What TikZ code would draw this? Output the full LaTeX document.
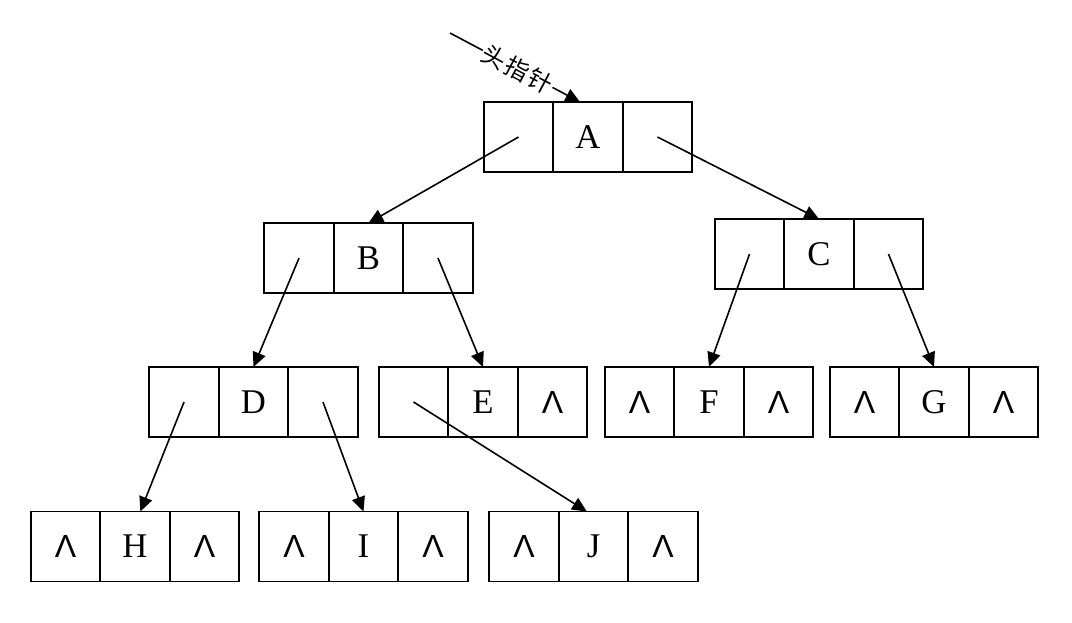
\documentclass[tikz,border=0pt]{standalone}
\usepackage{fontspec}
\setmainfont{Liberation Serif}
\newfontfamily\cjk{Noto Sans CJK SC}
\newfontfamily\lamfont{Liberation Sans}
\usetikzlibrary{arrows.meta,positioning}
\newcommand\nul{{\lamfont\fontsize{24}{26}\selectfont Λ}}
\tikzset{
  cell/.style={draw, line width=1.3pt, minimum width=52.1pt, minimum height=52.5pt,
    inner sep=0pt, outer sep=0pt, font=\fontsize{26}{30}\selectfont},
  arr/.style={line width=1.2pt, -{Triangle[length=11pt,width=10pt]}},
  lbl/.style={font=\cjk\fontsize{18}{22}\selectfont, fill=white, inner sep=1pt, sloped}
}
\begin{document}
\begin{tikzpicture}[x=0.75pt,y=-0.75pt]
\useasboundingbox (0,0) rectangle (1072,622);
% boxes: middle cell + left & right cells
\node[cell] (Am) at (588,137) {A};
\node[cell,left=0pt of Am] (Al) {};
\node[cell,right=0pt of Am] (Ar) {};
\node[cell] (Bm) at (368.5,258) {B};
\node[cell,left=0pt of Bm] (Bl) {};
\node[cell,right=0pt of Bm] (Br) {};
\node[cell] (Cm) at (819,254) {C};
\node[cell,left=0pt of Cm] (Cl) {};
\node[cell,right=0pt of Cm] (Cr) {};
\node[cell] (Dm) at (253.5,402) {D};
\node[cell,left=0pt of Dm] (Dl) {};
\node[cell,right=0pt of Dm] (Dr) {};
\node[cell] (Em) at (483,402) {E};
\node[cell,left=0pt of Em] (El) {};
\node[cell,right=0pt of Em] (Er) {\nul};
\node[cell] (Fm) at (709,402) {F};
\node[cell,left=0pt of Fm] (Fl) {\nul};
\node[cell,right=0pt of Fm] (Fr) {\nul};
\node[cell] (Gm) at (934,402) {G};
\node[cell,left=0pt of Gm] (Gl) {\nul};
\node[cell,right=0pt of Gm] (Gr) {\nul};
\node[cell] (Hm) at (135,546.5) {H};
\node[cell,left=0pt of Hm] (Hl) {\nul};
\node[cell,right=0pt of Hm] (Hr) {\nul};
\node[cell] (Im) at (363.5,546.5) {I};
\node[cell,left=0pt of Im] (Il) {\nul};
\node[cell,right=0pt of Im] (Ir) {\nul};
\node[cell] (Jm) at (593.5,546.5) {J};
\node[cell,left=0pt of Jm] (Jl) {\nul};
\node[cell,right=0pt of Jm] (Jr) {\nul};
% head pointer
\coordinate (hp) at (450,33);
\draw[arr] (hp) -- node[lbl,pos=0.52] {头\hspace{1.5pt}指\hspace{1.5pt}针} ([xshift=-6pt]Am.north);
% links
\draw[arr] (Al.center) -- (Bm.north);
\draw[arr] (Ar.center) -- (Cm.north);
\draw[arr] (Bl.center) -- (Dm.north);
\draw[arr] (Br.center) -- (Em.north);
\draw[arr] (Cl.center) -- (Fm.north);
\draw[arr] (Cr.center) -- (Gm.north);
\draw[arr] (Dl.center) -- ([xshift=4pt]Hm.north);
\draw[arr] (Dr.center) -- (Im.north);
\draw[arr] (El.center) -- ([xshift=-5pt]Jm.north);
\end{tikzpicture}
\end{document}
